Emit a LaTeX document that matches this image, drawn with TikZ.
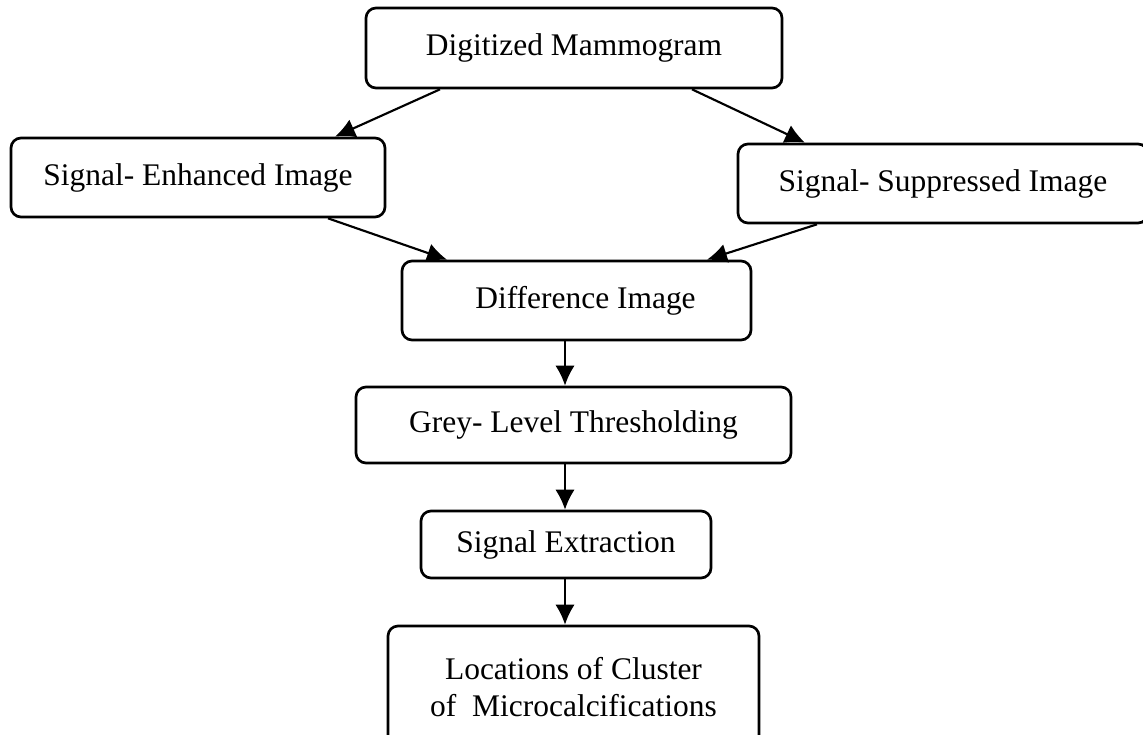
\documentclass[tikz,border=0pt]{standalone}
\usepackage{fontspec}
\setmainfont{Liberation Serif}
\usetikzlibrary{arrows.meta}

\tikzset{
  stage/.style={draw=black, line width=2pt, rounded corners=7.5pt,
    fill=white, inner sep=0pt, align=center,
    font=\fontsize{23.6}{27.75}\selectfont},
  flow/.style={line width=1.6pt, -{Latex[length=15pt,width=14.5pt]}}
}

\begin{document}
\begin{tikzpicture}[x=0.75pt, y=-0.75pt]
  \useasboundingbox (0,0) rectangle (1143,735);

  % processing stages
  \node[stage, minimum width=312pt, minimum height=60pt] (dm) at (574,48)
    {Digitized Mammogram};
  \node[stage, minimum width=280.5pt, minimum height=59.25pt] (enh) at (198,177.5)
    {Signal- Enhanced Image};
  \node[stage, minimum width=307.5pt, minimum height=59.25pt] (sup) at (943,183.5)
    {Signal- Suppressed Image};
  \node[stage, minimum width=261.75pt, minimum height=59.25pt] (diff) at (576.5,300.5)
    {\hspace*{13.5pt}Difference Image};
  \node[stage, minimum width=326.25pt, minimum height=57pt] (grey) at (573.5,425)
    {Grey- Level Thresholding};
  \node[stage, minimum width=217.5pt, minimum height=50.25pt] (ext) at (566,544.5)
    {Signal Extraction};
  \node[stage, minimum width=278.25pt, minimum height=92.25pt] (loc) at (573.5,687.5)
    {Locations of Cluster\\of\ \ Microcalcifications};

  % connectors
  \draw[flow] (440,0 |- dm.south) -- (335,0 |- enh.north);
  \draw[flow] (692,0 |- dm.south) -- (805,0 |- sup.north);
  \draw[flow] (328,0 |- enh.south) -- (447,0 |- diff.north);
  \draw[flow] (817,0 |- sup.south) -- (707,0 |- diff.north);
  \draw[flow] (565,0 |- diff.south) -- (565,0 |- grey.north);
  \draw[flow] (565,0 |- grey.south) -- (565,0 |- ext.north);
  \draw[flow] (565,0 |- ext.south) -- (565,0 |- loc.north);
\end{tikzpicture}
\end{document}
